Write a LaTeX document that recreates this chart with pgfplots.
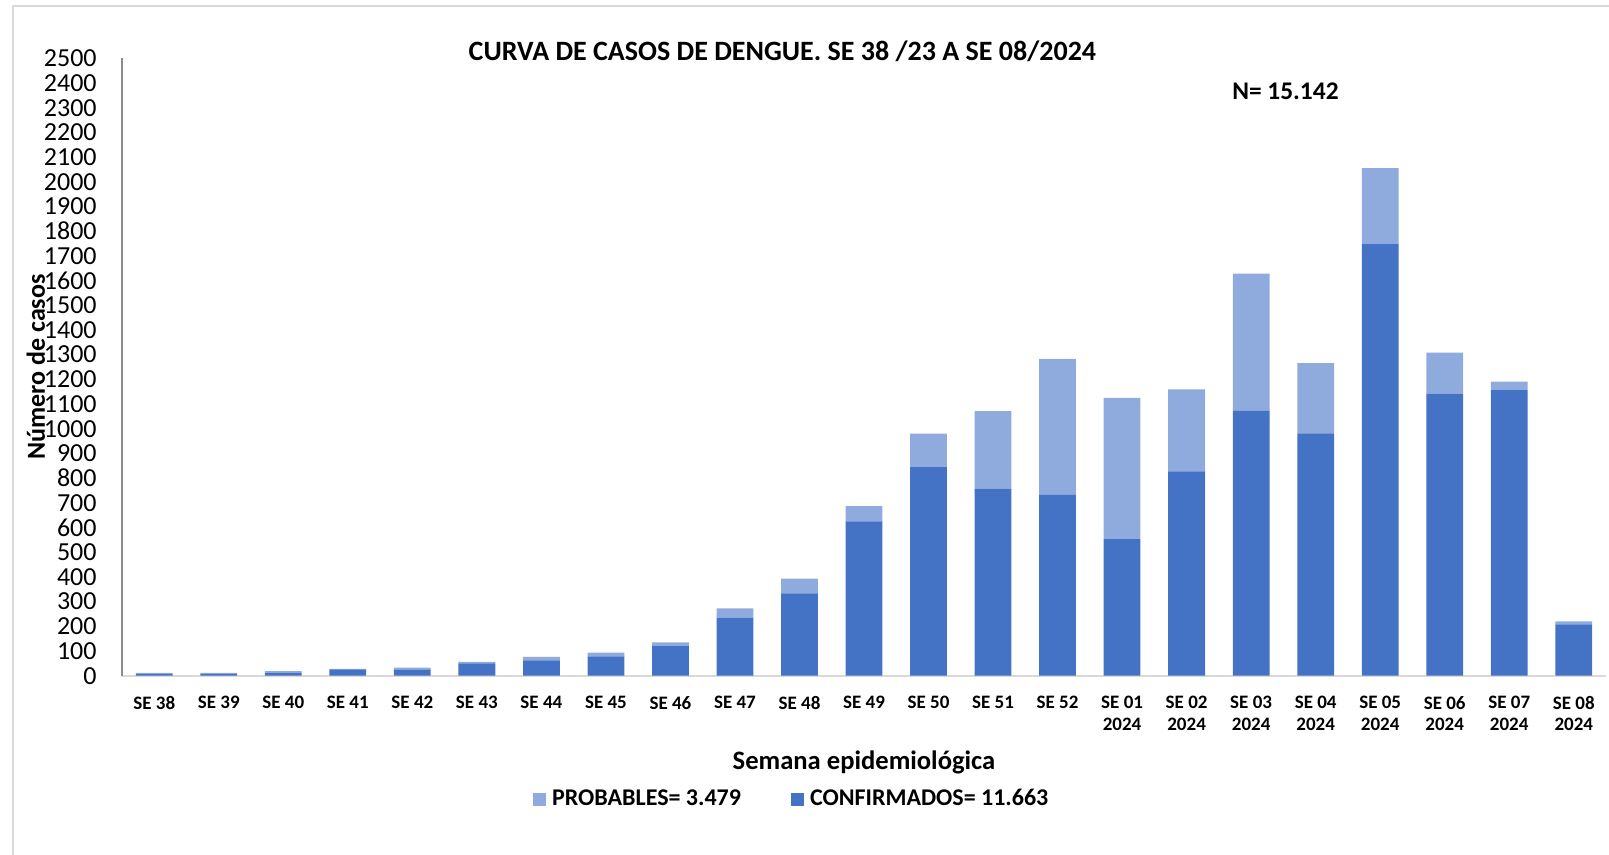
\documentclass[border=0pt]{standalone}
\usepackage{pgfplots}
\pgfplotsset{compat=1.18}
\usepackage{fontspec}
\setmainfont{Carlito}
\definecolor{conf}{HTML}{4472C4}
\definecolor{prob}{HTML}{8FAADC}
\begin{document}
\begin{tikzpicture}
\path[use as bounding box] (0,0) rectangle (804.5pt,427.5pt);
\draw[color=black!15, line width=1pt] (6.5pt,0) -- (6.5pt,424.5pt) -- (804.5pt,424.5pt);
\begin{axis}[
  at={(61pt,89.65pt)}, anchor=south west,
  scale only axis, width=742pt, height=308.7pt,
  ybar stacked, bar width=0.57,
  xmin=-0.5, xmax=22.5, ymin=0, ymax=2500,
  ytick distance=100,
  xtick={0,...,22},
  xticklabels={SE 38,SE 39,SE 40,SE 41,SE 42,SE 43,SE 44,SE 45,SE 46,SE 47,SE 48,SE 49,SE 50,SE 51,SE 52,{SE 01\\2024},{SE 02\\2024},{SE 03\\2024},{SE 04\\2024},{SE 05\\2024},{SE 06\\2024},{SE 07\\2024},{SE 08\\2024}},
  axis x line=bottom, axis y line=left,
  x axis line style={draw=black!15, line width=1pt, -},
  y axis line style={draw=black!45, line width=0.6pt, -},
  major tick length=0pt,
  /pgf/number format/assume math mode=true,
  /pgf/number format/set thousands separator={},
  yticklabel style={font=\fontsize{13}{13}\selectfont, inner sep=0pt, anchor=east, xshift=-12.5pt},
  xticklabel style={font=\bfseries\fontsize{9.5}{10.8}\selectfont, align=center, inner sep=0pt, anchor=north, yshift=-10pt},
  xlabel={Semana epidemiológica},
  xlabel style={font=\bfseries\fontsize{13.3}{15}\selectfont, at={(axis description cs:0.5,-0.14)}, anchor=center},
  ylabel={Número de casos},
  ylabel style={font=\bfseries\fontsize{13}{15}\selectfont, at={(axis description cs:-0.058,0.5)}, anchor=center},
  every axis title shift=0pt,
  title={CURVA DE CASOS DE DENGUE. SE 38 /23 A SE 08/2024},
  title style={font=\bfseries\fontsize{14}{16}\selectfont, at={(axis description cs:0.445,1.012)}, anchor=center},
  reverse legend,
  legend columns=2,
  legend image code/.code={\fill[#1] (0pt,-3.25pt) rectangle (6.5pt,3.25pt);},
  legend style={draw=none, fill=none, font=\bfseries\fontsize{12}{14}\selectfont, at={(axis description cs:0.452,-0.2)}, anchor=center, /tikz/every odd column/.append style={column sep=1pt}, /tikz/every even column/.append style={column sep=23pt}},
]
\addplot[fill=conf, draw=none] coordinates {
(0,8) (1,8) (2,12) (3,26) (4,24) (5,50) (6,62) (7,78) (8,122) (9,235) (10,333) (11,625) (12,845) (13,757) (14,732) (15,553) (16,827) (17,1072) (18,981) (19,1748) (20,1142) (21,1158) (22,208)};
\addlegendentry{CONFIRMADOS= 11.663}
\addplot[fill=prob, draw=none] coordinates {
(0,3) (1,3) (2,7) (3,2) (4,9) (5,6) (6,14) (7,15) (8,13) (9,38) (10,60) (11,62) (12,135) (13,314) (14,551) (15,572) (16,332) (17,556) (18,285) (19,307) (20,166) (21,33) (22,12)};
\addlegendentry{PROBABLES= 3.479}
\node[font=\bfseries\fontsize{12.7}{15}\selectfont] at (axis description cs:0.784,0.947) {N= 15.142};
\end{axis}
\end{tikzpicture}
\end{document}
